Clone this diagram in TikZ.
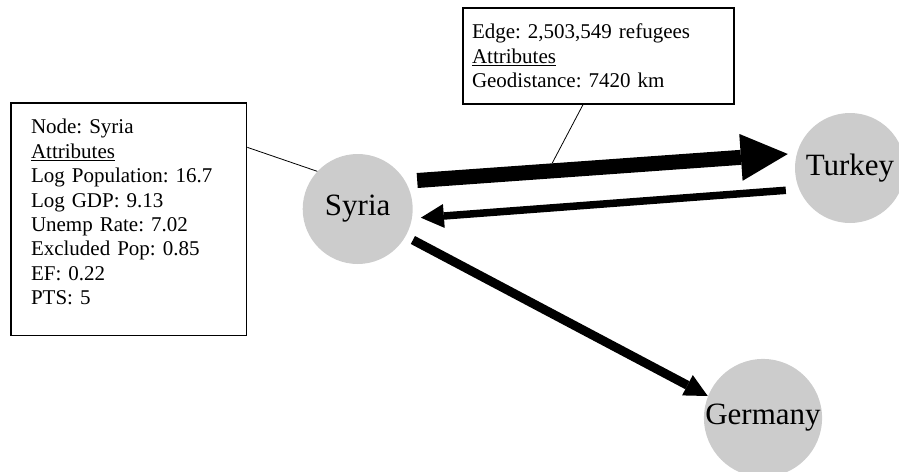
\documentclass[tikz,border=0pt]{standalone}
\usepackage{fontspec}
\setmainfont{Liberation Serif}
\usetikzlibrary{arrows.meta,positioning}
\definecolor{nodegray}{RGB}{204,204,204}

\begin{document}
\frenchspacing
\begin{tikzpicture}[x=1pt,y=1pt,on grid]
    \tikzset{country/.style={circle,fill=nodegray,minimum size=110pt,inner sep=0pt,font=\fontsize{31pt}{36pt}\selectfont},
      infobox/.style={draw,line width=1.3pt,rectangle,align=left,font=\fontsize{21pt}{24.4pt}\selectfont},
      callout/.style={line width=0.8pt}}
    \useasboundingbox (0,0) rectangle (899,-471);
    \node[country] (syria) at (357.7,-209) {Syria};
    \node[country] (turkey) [above right = 41pt and 492.3pt of syria] {Turkey};
    \node[country] (germany) [below right = 209pt and 405.3pt of syria] {Germany};
    \node[infobox,minimum width=235.7pt,minimum height=232.7pt,text width=195.7pt,inner xsep=20pt] (nodeinfo)
      [below left = 10.35pt and 228.85pt of syria]
      {Node: Syria\\ \underline{Attributes}\\ Log Population: 16.7\\ Log GDP: 9.13\\ Unemp Rate: 7.02\\
       Excluded Pop: 0.85\\ EF: 0.22\\ PTS: 5\rule[-14.5pt]{0pt}{14.5pt}};
    \node[infobox,minimum width=271pt,minimum height=96pt,text width=253pt,inner xsep=9pt] (edgeinfo)
      [above right = 153pt and 240.8pt of syria]
      {Edge: 2,503,549 refugees\\ \underline{Attributes}\\ Geodistance: 7420 km};
    % flows
    \draw[line width=15pt,-{Triangle[length=47pt,width=47pt,line width=0pt]}]
      ([xshift=4.3pt,yshift=28.5pt]syria.east) -- coordinate[pos=0.364] (flowmid) ([xshift=-7pt,yshift=14pt]turkey.west);
    \draw[line width=7.5pt,-{Triangle[length=23pt,width=24pt,line width=0pt]}]
      ([xshift=-9pt,yshift=-22.3pt]turkey.west) -- ([xshift=8pt,yshift=-8.7pt]syria.east);
    \draw[line width=9pt,-{Triangle[length=23pt,width=23pt,line width=0pt]}]
      ([yshift=-31pt]syria.east) -- ([xshift=4pt,yshift=22pt]germany.west);
    % callouts
    \draw[callout] ([yshift=-45pt]nodeinfo.north east) -- (syria.137);
    \draw[callout] ([xshift=-15.5pt]edgeinfo.south) -- ([yshift=7.5pt]flowmid);
\end{tikzpicture}
\end{document}
